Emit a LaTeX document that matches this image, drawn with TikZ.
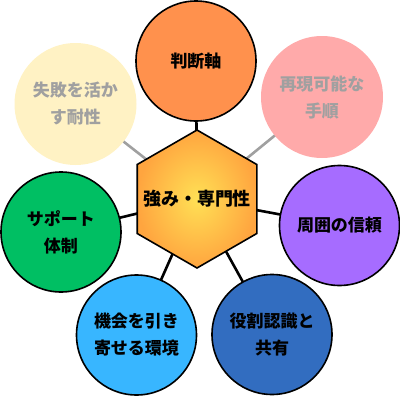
\documentclass[tikz,border=0pt]{standalone}
\usepackage{fontspec}
\newfontfamily\jp{Noto Sans CJK JP}
\usetikzlibrary{backgrounds}
\definecolor{corange}{HTML}{FF914D}
\definecolor{cpale}{HTML}{FFF2C4}
\definecolor{cpink}{HTML}{FFAAAA}
\definecolor{cpurple}{HTML}{A66CFF}
\definecolor{cblue}{HTML}{326DC0}
\definecolor{clight}{HTML}{38B6FF}
\definecolor{cgreen}{HTML}{00BF63}
\definecolor{cgrey}{HTML}{A0A0A0}
\definecolor{hexin}{HTML}{FFE055}
\definecolor{hexout}{HTML}{FFA53F}
\tikzset{
  bubble/.style={circle, minimum size=120pt, inner sep=0pt, draw=black, line width=1.6pt, align=center, font=\jp\bfseries\fontsize{17}{27}\selectfont},
  palebubble/.style={bubble, draw=none, text=cgrey, minimum size=122pt},
  link/.style={line width=2.6pt, black},
  palelink/.style={line width=2.6pt, cgrey},
  hexshape/.style={draw=black, line width=1.6pt, line join=miter, inner color=hexin, outer color=hexout},
  hexlabel/.style={inner sep=0pt, font=\jp\bfseries\fontsize{18}{22}\selectfont}
}
\begin{document}
\begin{tikzpicture}[x=1pt,y=-1pt]
\useasboundingbox (0,0) rectangle (400,400);
\coordinate (hc) at (197,199);
\node[bubble, fill=corange] (judge) at (196,61) {判断軸};
\node[palebubble, fill=cpale] (fail) at (75.5,104) {失敗を活か\\す耐性};
\node[palebubble, fill=cpink] (repro) at (322,97) {再現可能な\\手順};
\node[bubble, fill=cpurple] (trust) at (339.5,225.5) {周囲の信頼};
\node[bubble, fill=cblue] (role) at (272,334.5) {役割認識と\\共有};
\node[bubble, fill=clight] (chance) at (136.5,335) {機会を引き\\寄せる環境};
\node[bubble, fill=cgreen] (support) at (61,232) {サポート\\体制};
\path[hexshape] (197,130) -- (256.8,164.5) -- (256.8,233.5) -- (197,268) -- (137.2,233.5) -- (137.2,164.5) -- cycle;
\node[hexlabel] (core) at (hc) {強み・専門性};
\begin{scope}[on background layer]
\draw[link] (hc) -- (judge.center);
\draw[palelink] (hc) -- (fail.center);
\draw[palelink] (hc) -- (repro.center);
\draw[link] (hc) -- (trust.center);
\draw[link] (hc) -- (role.center);
\draw[link] (hc) -- (chance.center);
\draw[link] (hc) -- (support.center);
\end{scope}
\end{tikzpicture}
\end{document}
